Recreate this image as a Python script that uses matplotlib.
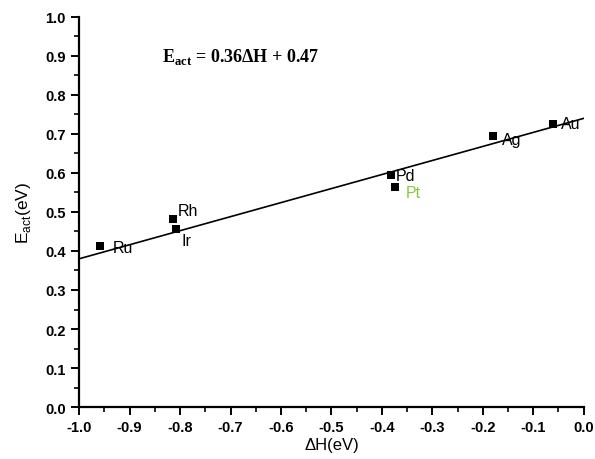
import matplotlib
matplotlib.use("Agg")
import matplotlib.pyplot as plt
import numpy as np
from matplotlib.ticker import MultipleLocator

metals = ["Ru", "Rh", "Ir", "Pd", "Pt", "Ag", "Au"]
dH = [-0.958, -0.814, -0.808, -0.382, -0.373, -0.180, -0.061]
Eact = [0.413, 0.482, 0.456, 0.594, 0.564, 0.695, 0.726]
label_colors = ["black", "black", "black", "black", "#8cc63f", "black", "black"]
label_offsets = [(0.025, -0.005), (0.01, 0.022), (0.01, -0.03), (0.01, 0.0), (0.02, -0.013), (0.018, -0.008), (0.015, 0.0)]

fit_slope = 0.36
fit_intercept = 0.74

plt.rcParams["font.family"] = ["Liberation Sans", "DejaVu Sans"]

fig = plt.figure(figsize=(5.95, 4.60), dpi=100)
ax = fig.add_axes([0.133, 0.113, 0.848, 0.848])

xs = np.array([-1.0, 0.0])
ax.plot(xs, fit_slope * xs + fit_intercept, color="black", lw=1.2, zorder=2)
ax.scatter(dH, Eact, marker="s", s=28, color="black", zorder=3, linewidths=0)

for m, x, y, c, (dx, dy) in zip(metals, dH, Eact, label_colors, label_offsets):
    ax.text(x + dx, y + dy, m, color=c, fontsize=11.5, va="center", ha="left")

ax.text(-0.835, 0.9, r"E$_{\mathregular{act}}$ = 0.36ΔH + 0.47", fontsize=13,
        fontweight="bold", family=["Liberation Serif", "DejaVu Serif"], va="center")

ax.set_xlim(-1.0, 0.0)
ax.set_ylim(0.0, 1.0)
ax.xaxis.set_major_locator(MultipleLocator(0.1))
ax.xaxis.set_minor_locator(MultipleLocator(0.05))
ax.yaxis.set_major_locator(MultipleLocator(0.1))
ax.yaxis.set_minor_locator(MultipleLocator(0.05))
ax.xaxis.set_major_formatter(lambda v, p: f"{v:.1f}")
ax.yaxis.set_major_formatter(lambda v, p: f"{v:.1f}")

ax.spines["top"].set_visible(False)
ax.spines["right"].set_visible(False)
ax.spines["left"].set_linewidth(1.6)
ax.spines["bottom"].set_linewidth(1.6)
ax.tick_params(which="major", direction="out", length=6, width=1.4, labelsize=10.5)
ax.tick_params(which="minor", direction="out", length=3.5, width=1.2)
for lbl in ax.get_xticklabels() + ax.get_yticklabels():
    lbl.set_fontweight("bold")

ax.set_xlabel("ΔH(eV)", fontsize=12, labelpad=2)
ax.set_ylabel(r"E$_{\mathregular{act}}$(eV)", fontsize=12.5, labelpad=9)

fig.savefig("out.png", dpi=100)
